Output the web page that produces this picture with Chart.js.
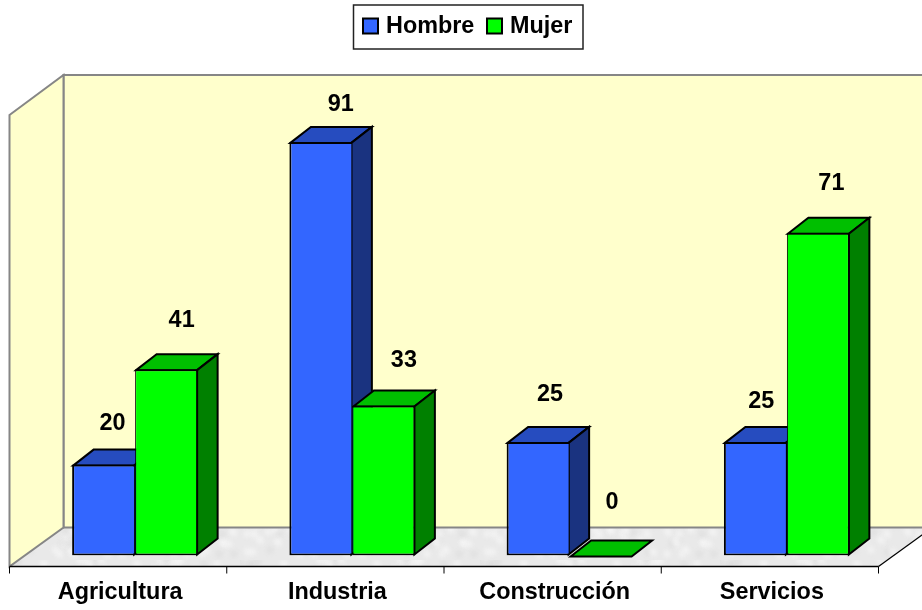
<!DOCTYPE html>
<html>
<head>
<meta charset="utf-8">
<title>Hombre / Mujer</title>
<script src="https://cdn.jsdelivr.net/npm/chart.js@4"></script>
<style>
  html, body { margin: 0; padding: 0; background: #fff; }
  canvas { display: block; }
</style>
</head>
<body>
<canvas id="myChart" width="922" height="610"></canvas>
<script>
const categories = ["Agricultura", "Industria", "Construcción", "Servicios"];
const hombre = [20, 91, 25, 25];
const mujer = [41, 33, 0, 71];
const seriesNames = ["Hombre", "Mujer"];

const frontColors = ["#3366FF", "#00FF00"];
const topColors = ["#264CBF", "#00BF00"];
const sideColors = ["#1A3380", "#008000"];

const FONT = "bold 23.4px 'Liberation Sans', Arial, sans-serif";

// hand placed labels in the original, offset from bar centre / bar top
const labelShift = [
  [[9, -41], [20, -37], [12, -47], [6, -40]],
  [[15, -49], [20, -45], [11, -53], [13, -49]]
];

// room corners relative to the plane the bars stand on
const roomFront = { dx: -17, dy: 11, topDy: 14 };
const roomBack = { dx: 37, dy: -28, topDy: -26 };
const barDepth = { dx: 20.5, dy: -16 };

function floorTexture(ctx) {
  const c = document.createElement("canvas");
  c.width = 240;
  c.height = 80;
  const g = c.getContext("2d");
  g.fillStyle = "#E9E9E9";
  g.fillRect(0, 0, 240, 80);
  g.filter = "blur(2.5px)";
  for (let i = 0; i < 170; i++) {
    const x = (i * 97) % 240;
    const y = (i * i * 13 + i * 31) % 80;
    const rx = 3 + (i * 7) % 7;
    g.fillStyle = i % 3 == 0 ? "#D8D8D8" : "#F6F6F6";
    g.beginPath();
    g.ellipse(x, y, rx, 2 + (i % 3), -0.6, 0, Math.PI * 2);
    g.fill();
  }
  return ctx.createPattern(c, "repeat");
}

function poly(ctx, pts, fill, stroke, width) {
  ctx.beginPath();
  pts.forEach((p, i) => i ? ctx.lineTo(p[0], p[1]) : ctx.moveTo(p[0], p[1]));
  ctx.closePath();
  if (fill) { ctx.fillStyle = fill; ctx.fill(); }
  if (stroke) { ctx.strokeStyle = stroke; ctx.lineWidth = width; ctx.stroke(); }
}

function line(ctx, x1, y1, x2, y2, color, width) {
  ctx.beginPath();
  ctx.moveTo(x1, y1);
  ctx.lineTo(x2, y2);
  ctx.strokeStyle = color;
  ctx.lineWidth = width;
  ctx.stroke();
}

const room3d = {
  id: "room3d",
  beforeDatasetsDraw(chart) {
    const ctx = chart.ctx;
    const a = chart.chartArea;
    const gray = "#868686";
    ctx.save();
    ctx.lineJoin = "miter";

    const fl = a.left + roomFront.dx, fr = a.right + roomFront.dx;
    const ft = a.top + roomFront.topDy, fb = a.bottom + roomFront.dy;
    const bl = a.left + roomBack.dx, br = a.right + roomBack.dx;
    const bt = a.top + roomBack.topDy, bb = a.bottom + roomBack.dy;

    poly(ctx, [[fl, fb], [bl, bb], [br, bb], [fr, fb]], floorTexture(ctx));
    poly(ctx, [[bl, bt], [br, bt], [br, bb], [bl, bb]], "#FFFFCC", gray, 2);
    poly(ctx, [[fl, ft], [bl, bt], [bl, bb], [fl, fb]], "#FFFFCC", gray, 2);
    line(ctx, fr, fb, br, bb, "#000", 1.2);

    // axis line and tick marks on the front edge of the floor
    line(ctx, fl, fb, fr, fb, "#000", 1.5);
    const step = (a.right - a.left) / categories.length;
    for (let i = 0; i <= categories.length; i++) {
      line(ctx, fl + i * step, fb, fl + i * step, fb + 7, "#000", 1);
    }

    // top and side faces of the bars, blue first so green lies over it
    [0, 1].forEach(d => {
      chart.getDatasetMeta(d).data.forEach(bar => {
        const x0 = bar.x - bar.width / 2 + 1, x1 = bar.x + bar.width / 2 - 1;
        const top = bar.y + 1, base = bar.base - 1;
        const dx = barDepth.dx, dy = barDepth.dy;
        poly(ctx, [[x0, top], [x0 + dx, top + dy], [x1 + dx, top + dy], [x1, top]], topColors[d], "#000", 2);
        if (base > top) {
          poly(ctx, [[x1, top], [x1 + dx, top + dy], [x1 + dx, base + dy], [x1, base]], sideColors[d], "#000", 2);
        }
      });
    });
    ctx.restore();
  },
  afterDatasetsDraw(chart) {
    const ctx = chart.ctx;
    ctx.save();
    ctx.font = FONT;
    ctx.fillStyle = "#000";
    ctx.textAlign = "center";
    ctx.textBaseline = "middle";
    [hombre, mujer].forEach((values, d) => {
      chart.getDatasetMeta(d).data.forEach((bar, i) => {
        const s = labelShift[d][i];
        ctx.fillText(String(values[i]), bar.x + s[0], bar.y + s[1]);
      });
    });
    ctx.restore();
  },
  afterDraw(chart) {
    const ctx = chart.ctx;
    ctx.save();
    ctx.fillStyle = "#fff";
    ctx.fillRect(353.5, 5, 229.5, 44);
    ctx.strokeStyle = "#222";
    ctx.lineWidth = 1.5;
    ctx.strokeRect(353.5, 5, 229.5, 44);
    ctx.font = FONT;
    ctx.textBaseline = "middle";
    [[363, 386], [487, 510]].forEach((pos, i) => {
      ctx.fillStyle = frontColors[i];
      ctx.fillRect(pos[0], 18.5, 15, 15);
      ctx.strokeStyle = "#000";
      ctx.lineWidth = 2;
      ctx.strokeRect(pos[0], 18.5, 15, 15);
      ctx.fillStyle = "#000";
      ctx.fillText(seriesNames[i], pos[1], 26.5);
    });
    ctx.restore();
  }
};

new Chart("myChart", {
  type: "bar",
  data: {
    labels: categories,
    datasets: [
      {
        label: seriesNames[0],
        data: hombre,
        backgroundColor: frontColors[0],
        borderColor: "#000",
        borderWidth: { top: 2, right: 1, bottom: 2, left: 2 },
        borderSkipped: false
      },
      {
        label: seriesNames[1],
        data: mujer,
        backgroundColor: frontColors[1],
        borderColor: "#000",
        borderWidth: { top: 2, right: 2, bottom: 2, left: 1 },
        borderSkipped: false
      }
    ]
  },
  options: {
    responsive: false,
    animation: false,
    layout: { padding: { left: 26.5, right: 26.5, top: 101, bottom: 0 } },
    datasets: { bar: { barPercentage: 1, categoryPercentage: 0.58 } },
    scales: {
      x: {
        afterFit: s => { s.height = 54.5; },
        border: { display: false },
        grid: { display: false, drawTicks: false },
        ticks: {
          color: "#000",
          font: { family: "'Liberation Sans', Arial, sans-serif", size: 23.4, weight: "bold" },
          padding: 23.5,
          labelOffset: -15,
          maxRotation: 0,
          autoSkip: false
        }
      },
      y: { display: false, min: 0, max: 100 }
    },
    plugins: {
      legend: { display: false },
      tooltip: { enabled: false }
    }
  },
  plugins: [room3d]
});
</script>
</body>
</html>
